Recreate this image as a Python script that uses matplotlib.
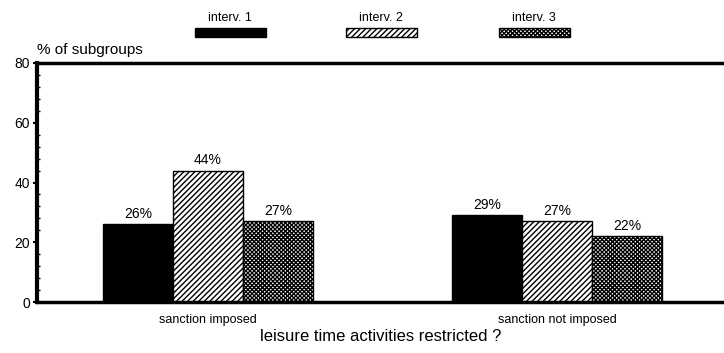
import matplotlib
matplotlib.use("Agg")
import matplotlib.pyplot as plt
from matplotlib.patches import Rectangle
import numpy as np

plt.rcParams['font.family'] = ['Liberation Sans', 'DejaVu Sans']
plt.rcParams['hatch.linewidth'] = 1.0

categories = ["sanction imposed", "sanction not imposed"]
series_names = ["interv. 1", "interv. 2", "interv. 3"]
interv1 = [26, 29]
interv2 = [44, 27]
interv3 = [27, 22]
yticks = [0, 20, 40, 60, 80]

fills = [
    dict(facecolor="black", hatch=None),
    dict(facecolor="white", hatch="//////"),
    dict(facecolor="white", hatch="xxxxxxxx"),
]

fig = plt.figure(figsize=(7.24, 3.53), dpi=100)
ax = fig.add_axes([37 / 724, 1 - 302 / 353, 687 / 724, 239 / 353])

x = np.arange(len(categories))
w = 0.2
for i, vals in enumerate([interv1, interv2, interv3]):
    ax.bar(x + (i - 1) * w, vals, w, edgecolor="black", linewidth=1.0,
           **fills[i])
    for xi, v in zip(x + (i - 1) * w, vals):
        ax.text(xi, v + 1.2, f"{v}%", ha="center", va="bottom", fontsize=10)

ax.set_xlim(-0.49, 1.478)
ax.set_ylim(0, 80)
ax.set_yticks(yticks)
ax.set_yticks(np.arange(0, 81, 4), minor=True)
ax.set_xticks(x)
ax.set_xticklabels(categories, fontsize=9)
ax.tick_params(axis="x", length=0, pad=9)
ax.tick_params(axis="y", direction="out", length=3, width=1.5, labelsize=10, pad=2)
ax.tick_params(axis="y", which="minor", direction="in", length=2, width=1)
ax.spines["right"].set_visible(False)
ax.spines["left"].set_linewidth(3)
ax.spines["bottom"].set_linewidth(2.5)
ax.spines["top"].set_linewidth(2.5)
ax.set_xlabel("leisure time activities restricted ?", fontsize=12, labelpad=2)

fig.text(37 / 724, 1 - 50 / 353, "% of subgroups", fontsize=11, ha="left", va="center")

# legend swatches along the top
legend_x = [195, 346, 499]
for name, lx, f in zip(series_names, legend_x, fills):
    r = Rectangle((lx / 724, 1 - 37 / 353), 71 / 724, 9 / 353,
                  transform=fig.transFigure, edgecolor="black", linewidth=1.0,
                  **f)
    fig.add_artist(r)
    fig.text((lx + 35) / 724, 1 - 18 / 353, name, fontsize=9, ha="center", va="center")

fig.savefig("out.png", dpi=100)
